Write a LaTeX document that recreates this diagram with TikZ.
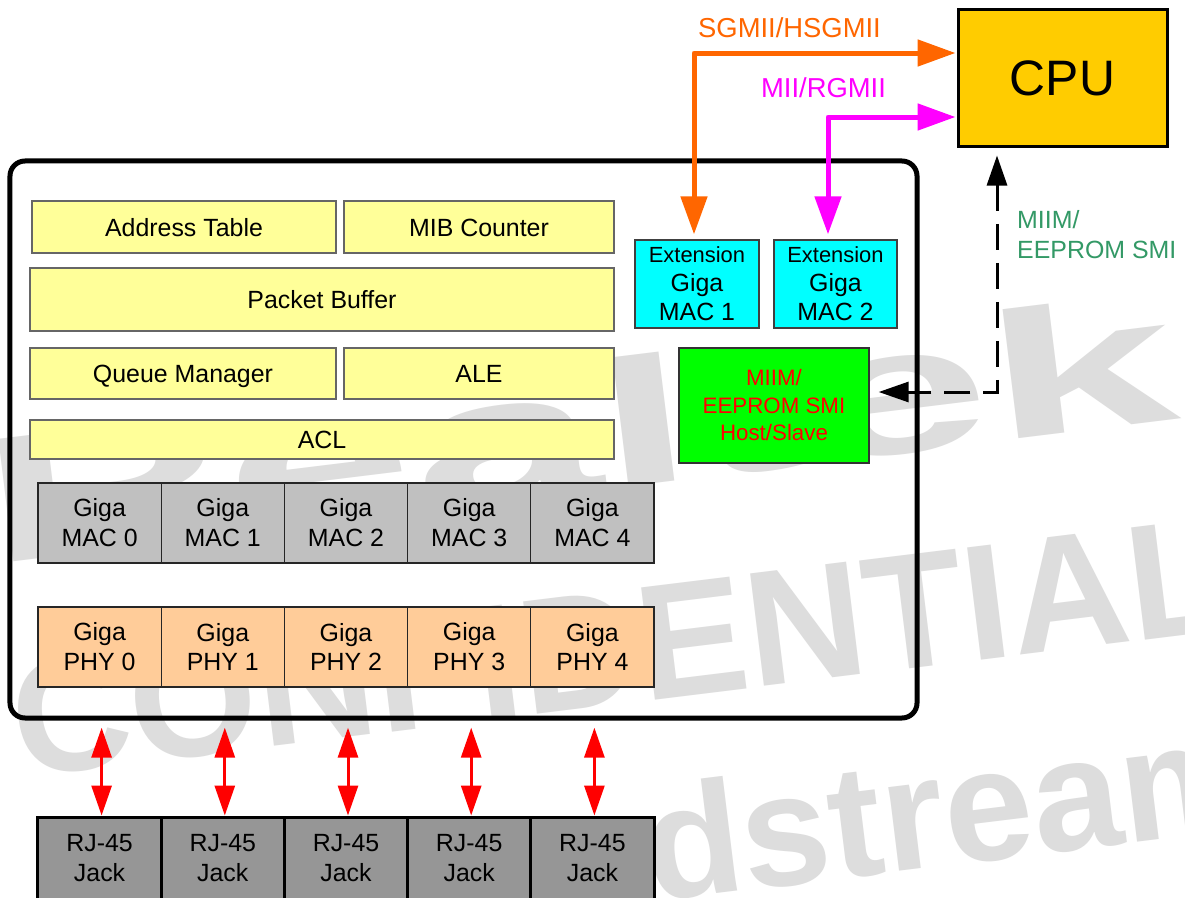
\documentclass[tikz,border=0pt]{standalone}
\usepackage{fontspec}
\setmainfont{Liberation Sans}
\usetikzlibrary{arrows.meta,calc}
\definecolor{wmgray}{RGB}{221,221,221}
\definecolor{ylw}{RGB}{255,255,153}
\definecolor{macg}{RGB}{192,192,192}
\definecolor{peach}{RGB}{255,204,153}
\definecolor{jackg}{RGB}{150,150,150}
\definecolor{cpuy}{RGB}{255,204,0}
\definecolor{orng}{RGB}{255,102,0}
\definecolor{mgnt}{RGB}{255,0,255}
\definecolor{seag}{RGB}{51,153,102}
\definecolor{cyn}{RGB}{0,255,255}
\definecolor{grn}{RGB}{0,255,0}
\begin{document}
\begin{tikzpicture}[x=1bp,y=-1bp,
  ybox/.style={draw=black!60, line width=1.3bp, fill=ylw, inner sep=0, text height=18bp, text depth=0bp, font=\fontsize{25}{30}\selectfont},
  cell/.style={draw=black!85, line width=1.3bp, inner sep=0, minimum width=123.2bp, minimum height=80bp, align=center, font=\fontsize{25}{30}\selectfont},
  jackbox/.style={cell, draw=black, line width=3bp, fill=jackg, minimum height=82bp},
  extbox/.style={draw=black!75, line width=1.3bp, fill=cyn, inner sep=0, minimum width=124bp, minimum height=88bp, align=center, font=\fontsize{25}{29}\selectfont},
  wmtext/.style={text=wmgray, inner sep=0, anchor=base west, rotate=7},
  bigtip/.style={{Triangle[length=38bp,width=26bp]}-{Triangle[length=38bp,width=26bp]}},
  redtip/.style={{Triangle[length=30bp,width=20bp]}-{Triangle[length=30bp,width=20bp]}}
]
\path[use as bounding box] (0,0) rectangle (1185,898);
\clip (0,0) rectangle (1185,898);
\fill[white] (0,0) rectangle (1185,898);

% watermark
\node[wmtext, xscale=1.88, font=\fontsize{180}{200}\selectfont\bfseries] (wm1) at (-9,565) {Realtek};
\node[wmtext, font=\fontsize{165}{200}\selectfont\bfseries] (wm2) at (19,778) {CONFIDENTIAL};
\node[wmtext, font=\fontsize{160}{200}\selectfont\bfseries] (wm3) at (651,902) {dstream};

% chip outline
\node[draw, line width=5bp, rounded corners=15bp, minimum width=907bp, minimum height=557bp, inner sep=0] (chip) at (463.5,439.5) {};

% yellow blocks
\node[ybox, minimum width=304bp, minimum height=52bp] (addr) at (184,227) {Address Table};
\node[ybox, minimum width=270bp, minimum height=52bp] (mib) at (479,227) {MIB Counter};
\node[ybox, minimum width=584bp, minimum height=63bp] (pbuf) at (322,299.5) {Packet Buffer};
\node[ybox, minimum width=306bp, minimum height=51bp] (queue) at (183,373.5) {Queue Manager};
\node[ybox, minimum width=270bp, minimum height=51bp] (ale) at (479,373.5) {ALE};
\node[ybox, minimum width=584bp, minimum height=39bp] (acl) at (322,439.5) {ACL};

% MAC / PHY / Jack rows
\foreach \i in {0,...,4} {
  \node[cell, fill=macg] (mac\i) at ({99.6+123.2*\i},523) {Giga\\MAC \i};
  \node[cell, fill=peach] (phy\i) at ({99.6+123.2*\i},647) {Giga\\PHY \i};
  \node[jackbox] (jack\i) at ({99.6+123.2*\i},858) {RJ-45\\Jack};
}

% extension MACs
\node[extbox] (ext1) at (697,284) {{\fontsize{22}{29}\selectfont Extension}\\Giga\\MAC 1};
\node[extbox, minimum width=123bp] (ext2) at (835.5,284) {{\fontsize{22}{29}\selectfont Extension}\\Giga\\MAC 2};

% MIIM block
\node[draw=black!80, line width=1.3bp, fill=grn, text=red, inner sep=0, minimum width=190bp, minimum height=115bp, align=center, font=\fontsize{22.4}{27.6}\selectfont] (smi) at (774,405.5) {MIIM/\\EEPROM SMI\\Host/Slave};

% CPU
\node[draw, line width=3bp, fill=cpuy, inner sep=0, minimum width=209bp, minimum height=136bp, font=\fontsize{50}{58}\selectfont] (cpu) at (1062.5,78) {CPU};

% labels
\node[text=orng, anchor=base, inner sep=0, font=\fontsize{27.5}{33}\selectfont] (lsg) at (789.5,37) {SGMII/HSGMII};
\node[text=mgnt, anchor=base, inner sep=0, font=\fontsize{27.5}{33}\selectfont] (lmii) at (823.5,97) {MII/RGMII};
\node[text=seag, anchor=west, align=left, inner sep=0, font=\fontsize{25}{30}\selectfont] (lmiim) at (1017,235) {MIIM/\\EEPROM SMI};

% connectors
\coordinate (o1) at (694,53);
\coordinate (m1) at (828,117);
\coordinate (d1) at (997,392);
\draw[orng, line width=5bp, line join=round, bigtip, shorten <=5bp, shorten >=1bp] (ext1.north -| o1) -- (o1) -- (o1 -| cpu.west);
\draw[mgnt, line width=5bp, line join=round, bigtip, shorten <=5bp, shorten >=1bp] (ext2.north -| m1) -- (m1) -- (m1 -| cpu.west);
\draw[black, line width=3bp, dash pattern=on 26bp off 13bp, {Triangle[length=30bp,width=20bp]}-{Triangle[length=30bp,width=20bp]}, shorten <=8bp, shorten >=9bp] (cpu.south -| d1) -- (d1) -- (d1 -| smi.east);
\foreach \i in {0,...,4} {
  \draw[red, line width=3bp, redtip] ([xshift=2bp,yshift=-40bp]phy\i.south) -- ([xshift=2bp]jack\i.north);
}
\end{tikzpicture}
\end{document}
